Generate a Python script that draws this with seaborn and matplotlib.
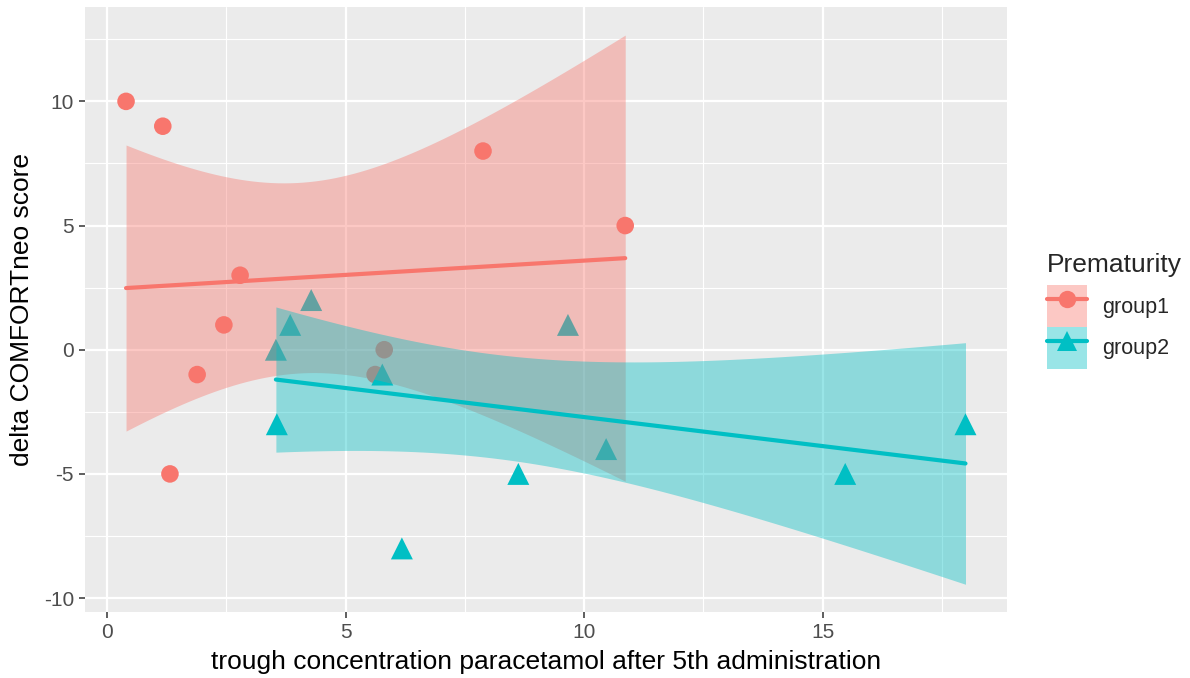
import numpy as np
import pandas as pd
import seaborn as sns
import matplotlib
matplotlib.use("Agg")
import matplotlib.pyplot as plt
from matplotlib.patches import Patch
from matplotlib.lines import Line2D

# ---- data ----
g1_x = [0.40, 1.17, 1.32, 1.89, 2.45, 2.79, 5.62, 5.81, 7.88, 10.86]
g1_y = [10, 9, -5, -1, 1, 3, -1, 0, 8, 5]
g2_x = [3.54, 3.56, 3.84, 4.28, 5.77, 6.18, 8.62, 9.66, 10.46, 15.47, 17.99]
g2_y = [0, -3, 1, 2, -1, -8, -5, 1, -4, -5, -3]
groups = ["group1", "group2"]
colors = {"group1": "#F8766D", "group2": "#00BFC4"}
markers = {"group1": "o", "group2": "^"}
x_ticks = [0, 5, 10, 15]
y_ticks = [-10, -5, 0, 5, 10]

df = pd.DataFrame({
    "x": g1_x + g2_x,
    "y": g1_y + g2_y,
    "Prematurity": ["group1"] * len(g1_x) + ["group2"] * len(g2_x),
})

sns.set_theme(style="darkgrid")
plt.rcParams["font.family"] = ["Liberation Sans", "DejaVu Sans"]
plt.rcParams["axes.unicode_minus"] = False

fig = plt.figure(figsize=(11.9, 6.78), dpi=100)
ax = fig.add_axes([85 / 1190, 1 - 612 / 678, (1007 - 85) / 1190, (612 - 7) / 678])
ax.set_facecolor("#EBEBEB")

# points (drawn first, under ribbons)
for g in groups:
    sub = df[df["Prematurity"] == g]
    sns.scatterplot(data=sub, x="x", y="y", color=colors[g], marker=markers[g],
                    s=160 if g == "group1" else 250, edgecolor="none", linewidth=0,
                    ax=ax, zorder=3, legend=False)

# smooth lm with analytic 95% CI (like ggplot geom_smooth(method="lm"))
tq = {8: 2.306, 9: 2.262}
for g in groups:
    sub = df[df["Prematurity"] == g]
    x = sub["x"].to_numpy(float)
    y = sub["y"].to_numpy(float)
    n = len(x)
    b1, b0 = np.polyfit(x, y, 1)
    resid = y - (b0 + b1 * x)
    s = np.sqrt(np.sum(resid ** 2) / (n - 2))
    xs = np.linspace(x.min(), x.max(), 80)
    yhat = b0 + b1 * xs
    se = s * np.sqrt(1 / n + (xs - x.mean()) ** 2 / np.sum((x - x.mean()) ** 2))
    t = tq[n - 2]
    ax.fill_between(xs, yhat - t * se, yhat + t * se, color=colors[g], alpha=0.4,
                    linewidth=0, zorder=4)
    sns.regplot(data=sub, x="x", y="y", scatter=False, ci=None, color=colors[g],
                line_kws={"linewidth": 3, "zorder": 5}, ax=ax, truncate=True)

ax.set_xlim(-0.46, 18.86)
ax.set_ylim(-10.56, 13.8)
ax.set_xticks(x_ticks)
ax.set_yticks(y_ticks)
ax.set_xticks([2.5, 7.5, 12.5, 17.5], minor=True)
ax.set_yticks([-7.5, -2.5, 2.5, 7.5, 12.5], minor=True)
ax.grid(which="major", color="white", linewidth=1.6)
ax.grid(which="minor", color="white", linewidth=0.8)
ax.set_axisbelow(True)
for sp in ax.spines.values():
    sp.set_visible(False)
ax.tick_params(which="major", length=4, width=1.1, color="#333333",
               labelsize=15, labelcolor="#4D4D4D", pad=4, bottom=True, left=True)
ax.tick_params(which="minor", length=0)
ax.set_xlabel("trough concentration paracetamol after 5th administration",
              fontsize=19, color="black", labelpad=6)
ax.set_ylabel("delta COMFORTneo score", fontsize=19, color="black", labelpad=7)

handles = []
for g in groups:
    patch = Patch(facecolor=colors[g], alpha=0.4, edgecolor="none")
    line = Line2D([], [], color=colors[g], linewidth=3, marker=markers[g],
                  markersize=12.5 if g == "group1" else 15, markeredgewidth=0)
    handles.append((patch, line))
leg = fig.legend(handles, groups, title="Prematurity", loc="upper left",
                 bbox_to_anchor=(1047 / 1190, 1 - 253 / 678), frameon=False,
                 fontsize=15.5, title_fontsize=19, handlelength=1.85, handleheight=2.6,
                 labelspacing=0.0, handletextpad=0.7, borderaxespad=0, borderpad=0)
leg._legend_box.align = "left"
leg._legend_box.sep = 6

fig.savefig("out.png", dpi=100)
